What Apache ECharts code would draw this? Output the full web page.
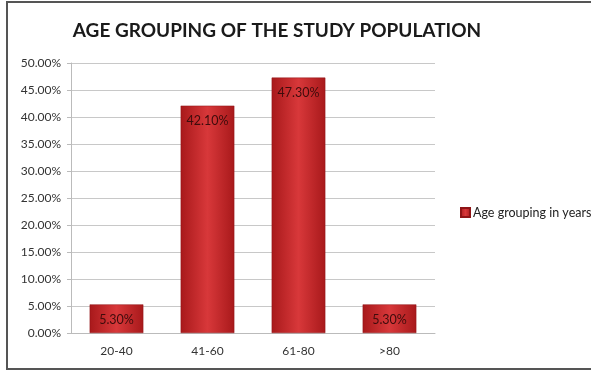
<!DOCTYPE html>
<html><head><meta charset="utf-8">
<script src="https://cdn.jsdelivr.net/npm/echarts@6/dist/echarts.min.js"></script>
<style>html,body{margin:0;padding:0;background:#fff}#c{width:591px;height:372px}</style>
</head><body><div id="c"></div>
<script>
const categories = ['20-40', '41-60', '61-80', '>80'];
const values = [5.3, 42.1, 47.3, 5.3];
const seriesName = 'Age grouping in years';
const titleText = 'AGE GROUPING OF THE STUDY POPULATION';

const chart = echarts.init(document.getElementById('c'));
const barColor = new echarts.graphic.LinearGradient(0, 0, 1, 0, [
  {offset: 0, color: '#a8191b'},
  {offset: 0.5, color: '#d8383a'},
  {offset: 1, color: '#a8191b'}
]);
chart.setOption({
  animation: false,
  title: {
    text: titleText, left: 272, top: 16, textAlign: 'center',
    textStyle: {fontFamily: 'Lato', fontWeight: 'bold', fontSize: 19, color: '#1a1a1a'}
  },
  legend: {
    data: [seriesName], left: 455, top: 201, itemWidth: 9, itemHeight: 9, itemGap: 3,
    icon: 'rect',
    textStyle: {fontFamily: 'Lato', fontSize: 12.5, color: '#222', padding: [0,0,0,-2]}
  },
  grid: {left: 71, right: 156, top: 63, bottom: 39},
  xAxis: {
    type: 'category', data: categories,
    axisTick: {show: false},
    axisLine: {lineStyle: {color: '#bbb'}},
    axisLabel: {fontFamily: 'Lato', fontSize: 12, color: '#333', margin: 12}
  },
  yAxis: {
    type: 'value', min: 0, max: 50, interval: 5,
    axisLine: {show: true, lineStyle: {color: '#bbb'}},
    axisTick: {show: true, length: 4, lineStyle: {color: '#bbb'}},
    splitLine: {lineStyle: {color: '#c8c8c8'}},
    axisLabel: {fontFamily: 'Lato', fontSize: 12, color: '#333', margin: 10,
      formatter: v => v.toFixed(2) + '%'}
  },
  series: [{
    name: seriesName, type: 'bar', data: values, barWidth: '59%',
    itemStyle: {color: barColor, borderColor: '#8e1416', borderWidth: 0.5},
    label: {show: true, position: 'insideTop', distance: 9,
      fontFamily: 'Lato', fontSize: 12.5, color: '#3e0c0c',
      formatter: p => p.value.toFixed(2) + '%'}
  }],
  graphic: [{
    type: 'rect', shape: {x: 7, y: 2, width: 600, height: 367},
    style: {fill: 'none', stroke: '#555', lineWidth: 2}, silent: true
  }]
});
</script></body></html>
